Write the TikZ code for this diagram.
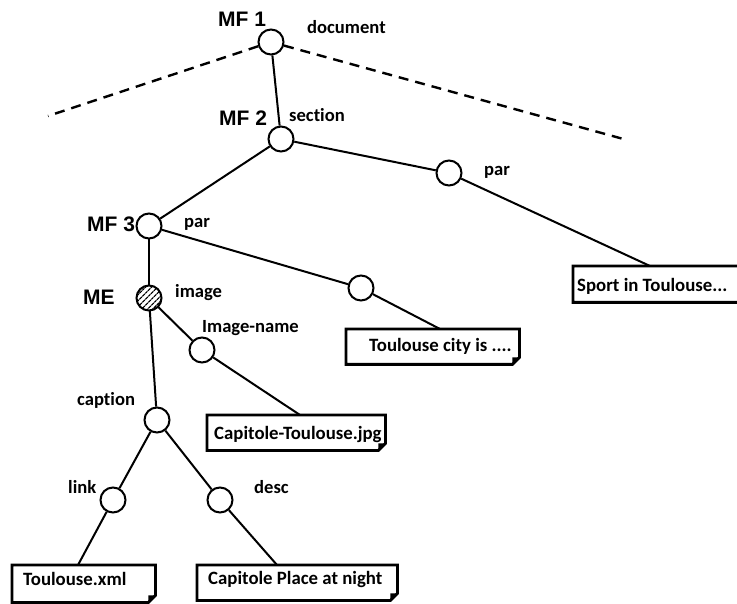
\documentclass[tikz,border=0pt]{standalone}
\usepackage{fontspec}
\setmainfont{Carlito}[Ligatures=NoCommon]
\newfontfamily\mffont{Liberation Sans}
\usetikzlibrary{patterns.meta}

% outline of a document box: folded bottom-right corner
\newcommand\docframe[1]{%
  \draw[boxline] (#1.north west) -- (#1.north east) -- ([yshift=7pt]#1.south east)
    -- ([xshift=-7pt]#1.south east) -- (#1.south west) -- cycle;
  \fill ([yshift=7pt]#1.south east) -- ([xshift=-7pt]#1.south east)
    -- ([xshift=-7pt,yshift=7pt]#1.south east) -- cycle;}

\begin{document}
\begin{tikzpicture}[x=1pt,y=-1pt,
  tnode/.style={circle,draw,line width=2pt,minimum size=25pt,inner sep=0pt,fill=white},
  hatched/.style={tnode,pattern={Lines[angle=45,distance=4pt,line width=1.3pt]}},
  edge/.style={line width=2pt},
  dashedge/.style={line width=2.4pt,dash pattern=on 10pt off 7pt},
  lbl/.style={font=\bfseries\fontsize{18.6}{20}\selectfont,anchor=base west,inner sep=0pt},
  mflbl/.style={font=\mffont\bfseries\fontsize{21}{24}\selectfont,anchor=base west,inner sep=0pt},
  docbox/.style={anchor=north west,inner ysep=0pt,font=\bfseries\fontsize{18.8}{20}\selectfont},
  boxline/.style={line width=2.8pt,line join=miter},
]
\useasboundingbox (0,0) rectangle (737,604);

% tree nodes
\node[tnode] (mf1) at (271,42) {};
\node[tnode] (mf2) at (281,139) {};
\node[tnode] (par1) at (449,173) {};
\node[tnode] (mf3) at (149,226) {};
\node[tnode] (par2) at (361,288) {};
\node[hatched] (me) at (149,298) {};
\node[tnode] (imgname) at (202,350) {};
\node[tnode] (caption) at (157,420) {};
\node[tnode] (link) at (113,500) {};
\node[tnode] (desc) at (220,500) {};

% open ends of the elided siblings
\coordinate (dl) at (48,116);
\coordinate (dr) at (627,140);

% document boxes
\node[docbox,inner xsep=4pt,text height=25pt,text depth=11pt] (sportbox) at (573,266)
  {\makebox[172pt][l]{Sport in Toulouse...}};
\node[docbox,inner xsep=23pt,text height=22pt,text depth=13pt] (citybox) at (346,329)
  {\makebox[127pt][l]{Toulouse city is ....}};
\node[docbox,inner xsep=7pt,text height=24pt,text depth=11pt] (jpgbox) at (207,415)
  {\makebox[164pt][l]{Capitole-Toulouse.jpg}};
\node[docbox,inner xsep=11pt,text height=20pt,text depth=17pt] (xmlbox) at (12,565)
  {\makebox[121pt][l]{Toulouse.xml}};
\node[docbox,inner xsep=11pt,text height=19pt,text depth=16pt] (placebox) at (197,565)
  {\makebox[178pt][l]{Capitole Place at night}};
\docframe{sportbox}
\docframe{citybox}
\docframe{jpgbox}
\docframe{xmlbox}
\docframe{placebox}

% edges
\draw[dashedge] (mf1) -- (dl);
\draw[dashedge] (mf1) -- (dr);
\draw[edge] (mf1) -- (mf2);
\draw[edge] (mf2) -- (mf3);
\draw[edge] (mf2) -- (par1);
\draw[edge] (mf3) -- (par2);
\draw[edge] (mf3) -- (me);
\draw[edge] (me) -- (imgname);
\draw[edge] (me) -- (caption);
\draw[edge] (caption) -- (link);
\draw[edge] (caption) -- (desc);
\draw[edge] (par1) -- ([xshift=77pt]sportbox.north west);
\draw[edge] (par2) -- ([xshift=94pt]citybox.north west);
\draw[edge] (imgname) -- ([xshift=93pt]jpgbox.north west);
\draw[edge] (link) -- ([xshift=66pt]xmlbox.north west);
\draw[edge] (desc) -- ([xshift=80pt]placebox.north west);

% labels
\node[mflbl] (lmf1) at (218,27) {MF 1};
\node[mflbl] (lmf2) at (219,126) {MF 2};
\node[mflbl] (lmf3) at (87,232) {MF 3};
\node[mflbl] (lme) at (83,305) {ME};
\node[lbl] (ldoc) at (307,34) {document};
\node[lbl] (lsec) at (289,122) {section};
\node[lbl] (lpar1) at (484,176) {par};
\node[lbl] (lpar2) at (184,228) {par};
\node[lbl] (limg) at (175,298) {image};
\node[lbl] (limgname) at (202,333) {Image-name};
\node[lbl] (lcap) at (77,405) {caption};
\node[lbl] (llink) at (68,493) {link};
\node[lbl] (ldesc) at (254,493) {desc};
\end{tikzpicture}
\end{document}
